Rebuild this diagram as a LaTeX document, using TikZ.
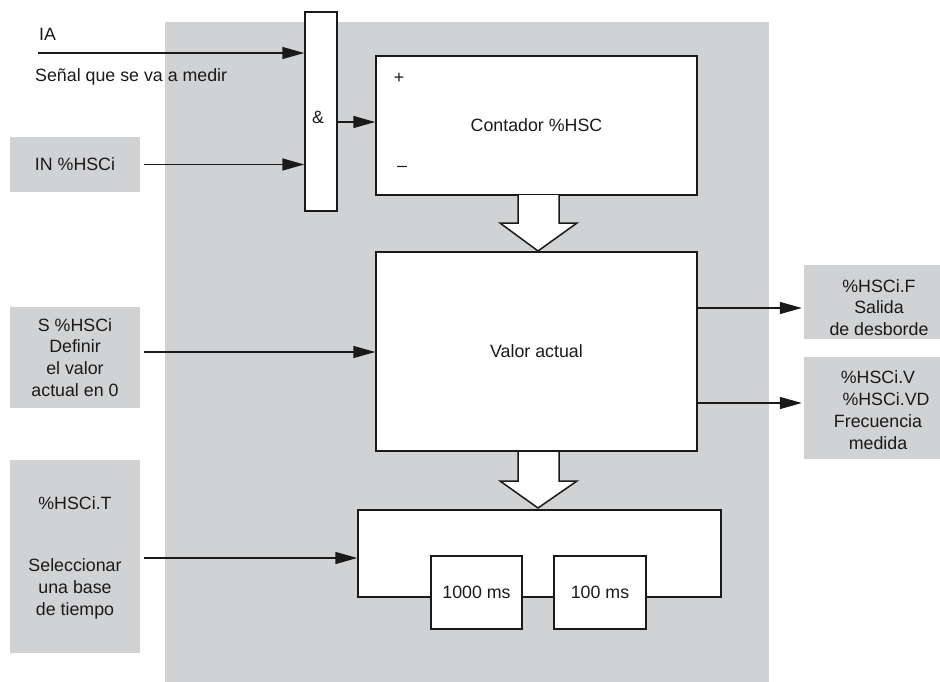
\documentclass[tikz,border=0pt]{standalone}
\usepackage{fontspec}
\setmainfont{Liberation Sans}
\usetikzlibrary{arrows.meta}
\definecolor{panelgray}{RGB}{209,210,212}
\definecolor{inkc}{RGB}{26,26,26}
\begin{document}
\begin{tikzpicture}[x=1pt,y=-1pt,
  every node/.style={font=\fontsize{17.8}{21.8}\selectfont, text=inkc, inner sep=0pt},
  wbox/.style={draw=inkc, fill=white, line width=1.5pt, rectangle},
  gbox/.style={fill=panelgray, rectangle},
  arr/.style={draw=inkc, line width=1.5pt, -{Triangle[length=22pt,width=12pt]}},
  blockarrow/.style={draw=inkc, fill=white, line width=1.5pt, line join=miter}
]
\useasboundingbox (0,0) rectangle (940,682);
% main gray panel
\node[gbox, minimum width=604pt, minimum height=660pt] (panel) at (467,352) {};
% left gray boxes
\node[gbox, minimum width=130pt, minimum height=55pt] (in) at (75,164.5) {IN \%HSCi};
\node[gbox, minimum width=130pt, minimum height=101pt, align=center] (s) at (75,357.5) {S \%HSCi\\Definir\\el valor\\actual en 0};
\node[gbox, minimum width=130pt, minimum height=193pt] (t) at (75,556.5) {};
\node (ttop) at (75,503) {\%HSCi.T};
\node[align=center] (tbot) at (75,589) {Seleccionar\\una base\\de tiempo};
% right gray boxes
\node[gbox, minimum width=136pt, minimum height=74pt] (f) at (872,302) {};
\node[align=center] (ftxt) at (879,307.5) {\%HSCi.F\\Salida\\de desborde};
\node[gbox, minimum width=136pt, minimum height=102pt] (v) at (872,408) {};
\node[align=center] (vtxt) at (878,410) {\%HSCi.V\\\hspace*{0.9em}\%HSCi.VD\\Frecuencia\\medida};
% AND gate
\node[wbox, minimum width=32pt, minimum height=199pt] (and) at (321,111.5) {};
\node (amp) at (318,117) {\&};
% counter
\node[wbox, minimum width=321pt, minimum height=139pt] (cnt) at (536.5,125.5) {Contador \%HSC};
\node (plus) at (399,78) {+};
\node (minus) at (402,169) {--};
% current value
\node[wbox, minimum width=321pt, minimum height=199pt] (val) at (536.5,351.5) {Valor actual};
% time base
\node[wbox, minimum width=363pt, minimum height=87pt] (tb) at (539.5,553.5) {};
\node[wbox, minimum width=91pt, minimum height=73pt] (ms1) at (476.5,592.5) {1000 ms};
\node[wbox, minimum width=92pt, minimum height=73pt] (ms2) at (600,592.5) {100 ms};
% block arrows
\draw[blockarrow] (518,195) -- (518,223) -- (500,223) -- (538,251) -- (577,223) -- (559,223) -- (559,195);
\draw[blockarrow] (518,452) -- (518,481) -- (500,481) -- (538,508) -- (577,481) -- (559,481) -- (559,452);
% IA input
\coordinate (ia) at (38,53);
\node[anchor=west] (ialbl) at (39,34) {IA};
\node[anchor=west] (senal) at (35,77) {Señal que se va a medir};
\draw[arr] (ia) -- (ia -| and.west);
\draw[arr, shorten <=4pt] (in.east) -- (in.east -| and.west);
\coordinate (andout) at (337,122);
\draw[arr] (andout) -- (andout -| cnt.west);
\coordinate (sy) at (140,352);
\draw[arr, shorten <=4pt] (sy) -- (sy -| val.west);
\coordinate (ty) at (140,558);
\draw[arr, shorten <=4pt] (ty) -- (ty -| tb.west);
\coordinate (fy) at (697,308);
\draw[arr, shorten >=2pt] (fy) -- (fy -| f.west);
\coordinate (vy) at (697,403);
\draw[arr, shorten >=2pt] (vy) -- (vy -| v.west);
\end{tikzpicture}
\end{document}
